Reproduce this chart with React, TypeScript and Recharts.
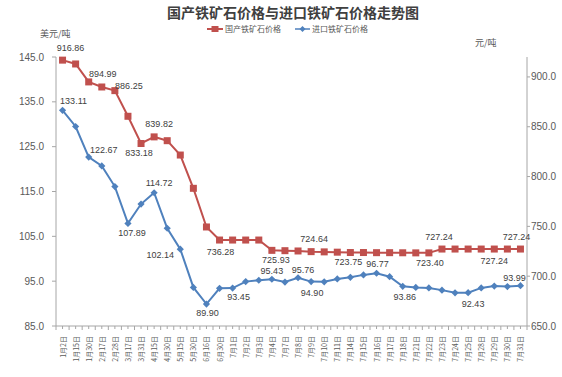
import { ComposedChart, Line, XAxis, YAxis } from "recharts";

const dates = [
  "1月2日", "1月15日", "1月30日", "2月17日", "2月28日", "3月17日",
  "3月31日", "4月15日", "4月30日", "5月15日", "5月30日", "6月16日",
  "6月30日", "7月1日", "7月2日", "7月3日", "7月4日", "7月7日",
  "7月8日", "7月9日", "7月10日", "7月11日", "7月14日", "7月15日",
  "7月16日", "7月17日", "7月18日", "7月21日", "7月22日", "7月23日",
  "7月24日", "7月25日", "7月28日", "7月29日", "7月30日", "7月31日",
];

// 国产 (元/吨, right axis)
const domestic = [
  916.86, 913.0, 894.99, 889.9, 886.25, 860.5,
  833.18, 839.82, 836.0, 821.6, 788.2, 749.4,
  736.28, 736.28, 736.28, 736.28, 725.93, 725.6,
  725.3, 724.64, 724.4, 724.1, 723.75, 723.75,
  723.6, 723.6, 723.5, 723.4, 723.4, 727.24,
  727.24, 727.24, 727.24, 727.24, 727.24, 727.24,
];

// 进口 (美元/吨, left axis)
const imported = [
  133.11, 129.5, 122.67, 120.7, 116.1, 107.89,
  112.2, 114.72, 106.8, 102.14, 93.6, 89.9,
  93.4, 93.45, 94.9, 95.2, 95.43, 94.8,
  95.76, 94.9, 94.85, 95.5, 95.85, 96.4,
  96.77, 96.0, 93.86, 93.6, 93.5, 93.0,
  92.4, 92.43, 93.5, 93.9, 93.8, 93.99,
];

const leftTicks = [85, 95, 105, 115, 125, 135, 145];
const rightTicks = [650, 700, 750, 800, 850, 900];

// which points carry a value label, and the offset of the label
const domesticLabels: Record<number, [number, number]> = {
  0: [8, -12], 2: [14, -8], 4: [14, -5], 6: [-2, 10], 7: [5, -13],
  12: [1, 12], 16: [4, 10], 19: [3, -13], 22: [-2, 9], 28: [1, 10],
  29: [-3, -12], 33: [0, 12], 35: [-4, -12],
};
const importedLabels: Record<number, [number, number]> = {
  0: [11, -9], 2: [15, -7], 5: [4, 10], 7: [5, -10], 9: [-20, 6],
  11: [1, 9], 13: [6, 9], 16: [0, -8], 18: [5, -8], 19: [1, 11],
  24: [1, -9], 26: [2, 11], 31: [5, 11], 35: [-6, -8],
};

const RED = "#C0504D";
const BLUE = "#4F81BD";
const AXIS = "#A6A6A6";
const TEXT = "#595959";
const NUM_FONT = "'Liberation Sans', Arial, sans-serif";
const CJK_FONT = "'Noto Sans CJK SC', sans-serif";

const PLOT_W = 471;
const BAND = PLOT_W / dates.length;

const data = dates.map((d, i) => ({
  date: d,
  domestic: domestic[i],
  imported: imported[i],
}));

const makeLabel = (offsets: Record<number, [number, number]>) => (props: any) => {
  const { x, y, index, value } = props;
  const off = offsets[index];
  if (!off) return null;
  return (
    <text
      key={`lbl-${index}`}
      x={Number(x) + off[0]}
      y={Number(y) + off[1]}
      textAnchor="middle"
      dominantBaseline="central"
      fontSize={9}
      fontFamily={NUM_FONT}
      fill="#404040"
    >
      {Number(value).toFixed(2)}
    </text>
  );
};

const squareDot = (props: any) => {
  const { cx, cy, index } = props;
  return <rect key={`sq-${index}`} x={cx - 3.5} y={cy - 3.5} width={7} height={7} fill={RED} />;
};

const diamondDot = (props: any) => {
  const { cx, cy, index } = props;
  const r = 3.6;
  return (
    <polygon
      key={`dm-${index}`}
      points={`${cx},${cy - r} ${cx + r},${cy} ${cx},${cy + r} ${cx - r},${cy}`}
      fill={BLUE}
    />
  );
};

const CategoryTick = (props: any) => {
  const { x, y, payload, index } = props;
  const ty = y + 10;
  const left = x - BAND / 2;
  return (
    <g>
      <line x1={left} y1={y} x2={left} y2={y + 4} stroke={AXIS} />
      <line x1={x} y1={y} x2={x} y2={y + 3} stroke={AXIS} />
      {index === dates.length - 1 && (
        <line x1={x + BAND / 2} y1={y} x2={x + BAND / 2} y2={y + 4} stroke={AXIS} />
      )}
      <text
        x={x}
        y={ty}
        transform={`rotate(-90 ${x} ${ty})`}
        textAnchor="end"
        dominantBaseline="central"
        fontSize={7}
        fontFamily={CJK_FONT}
        fill={TEXT}
      >
        {payload.value}
      </text>
    </g>
  );
};

const LegendBox = () => (
  <div
    style={{
      position: "absolute",
      left: 207,
      top: 23,
      display: "flex",
      alignItems: "center",
      fontFamily: CJK_FONT,
      fontSize: 8,
      lineHeight: "12px",
      color: TEXT,
      whiteSpace: "nowrap",
    }}
  >
    <svg width={16} height={8} style={{ marginRight: 2 }}>
      <line x1={0} y1={4} x2={16} y2={4} stroke={RED} strokeWidth={2} />
      <rect x={4.5} y={1} width={7} height={6} fill={RED} />
    </svg>
    <span style={{ marginRight: 14 }}>国产铁矿石价格</span>
    <svg width={15} height={8} style={{ marginRight: 2 }}>
      <line x1={0} y1={4} x2={15} y2={4} stroke={BLUE} strokeWidth={1.5} />
      <polygon points="7.5,1 10.5,4 7.5,7 4.5,4" fill={BLUE} />
    </svg>
    <span>进口铁矿石价格</span>
  </div>
);

const App = () => {
  return (
    <div style={{ position: "absolute", left: 0, top: 0, width: 562, height: 377, background: "#fff" }}>
      <div
        style={{
          position: "absolute",
          left: 0,
          top: 3,
          width: 586,
          textAlign: "center",
          fontFamily: CJK_FONT,
          fontWeight: 700,
          fontSize: 14,
          color: "#404040",
          lineHeight: "18px",
        }}
      >
        国产铁矿石价格与进口铁矿石价格走势图
      </div>
      <LegendBox />
      <div
        style={{
          position: "absolute",
          left: 40,
          top: 28,
          fontFamily: CJK_FONT,
          fontSize: 9,
          color: TEXT,
          lineHeight: "12px",
        }}
      >
        美元/吨
      </div>
      <div
        style={{
          position: "absolute",
          left: 475,
          top: 37,
          fontFamily: CJK_FONT,
          fontSize: 9,
          color: TEXT,
          lineHeight: "12px",
        }}
      >
        元/吨
      </div>
      <ComposedChart
        width={562}
        height={377}
        data={data}
        margin={{ top: 57, right: 0, bottom: 0, left: 0 }}
      >
        <XAxis
          dataKey="date"
          scale="band"
          interval={0}
          height={51}
          tickSize={0}
          tickMargin={0}
          tick={CategoryTick}
          axisLine={{ stroke: AXIS }}
          tickLine={false}
        />
        <YAxis
          yAxisId="left"
          orientation="left"
          width={56}
          domain={[85, 145]}
          ticks={leftTicks}
          interval={0}
          tickFormatter={(v: number) => v.toFixed(1)}
          tickSize={4}
          tickMargin={8}
          axisLine={{ stroke: AXIS }}
          tickLine={{ stroke: AXIS }}
          tick={{ fontSize: 10, fontFamily: NUM_FONT, fill: TEXT }}
        />
        <YAxis
          yAxisId="right"
          orientation="right"
          width={35}
          domain={[650, 920]}
          ticks={rightTicks}
          interval={0}
          tickFormatter={(v: number) => v.toFixed(1)}
          tickSize={3}
          tickMargin={1}
          axisLine={{ stroke: AXIS }}
          tickLine={{ stroke: AXIS }}
          tick={{ fontSize: 10, fontFamily: NUM_FONT, fill: TEXT }}
        />
        <Line
          yAxisId="right"
          type="linear"
          dataKey="domestic"
          name="国产铁矿石价格"
          stroke={RED}
          strokeWidth={2}
          dot={squareDot}
          activeDot={false}
          label={makeLabel(domesticLabels)}
          isAnimationActive={false}
        />
        <Line
          yAxisId="left"
          type="linear"
          dataKey="imported"
          name="进口铁矿石价格"
          stroke={BLUE}
          strokeWidth={2}
          dot={diamondDot}
          activeDot={false}
          label={makeLabel(importedLabels)}
          isAnimationActive={false}
        />
      </ComposedChart>
    </div>
  );
};

export default App;
